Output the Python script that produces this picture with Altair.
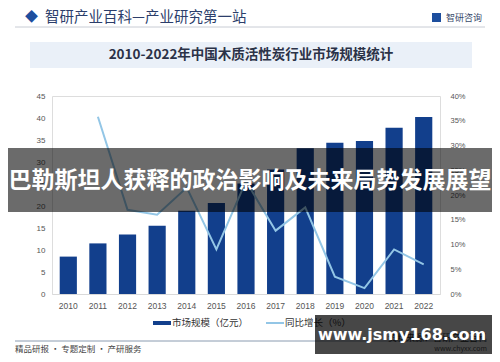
import altair as alt
import pandas as pd

# ---------------- data ----------------
years = ["2010", "2011", "2012", "2013", "2014", "2015", "2016",
         "2017", "2018", "2019", "2020", "2021", "2022"]
market_size = [8.5, 11.5, 13.5, 15.5, 18.9, 20.7, 25.1,
               28.3, 33.1, 34.4, 34.8, 37.8, 40.2]
growth_years = ["2011", "2012", "2013", "2014", "2015", "2016",
                "2017", "2018", "2019", "2020", "2021", "2022"]
growth_pct = [35.8, 17.0, 16.0, 21.5, 9.0, 22.8,
              12.8, 17.5, 3.5, 1.2, 9.0, 6.0]
left_ticks = [0, 5, 10, 15, 20, 25, 30, 35, 40, 45]
right_ticks = [0, 0.05, 0.10, 0.15, 0.20, 0.25, 0.30, 0.35, 0.40]

header_text = "智研产业百科—产业研究第一站"
logo_text = "智研咨询"
title_text = "2010-2022年中国木质活性炭行业市场规模统计"
legend_bar = "市场规模（亿元）"
legend_line = "同比增长（%）"
footer_left = "精品研报 · 专题定制 · 产研服务"
footer_src = "资料来源：智研产业百科"
footer_url = "www.chyxx.com"
banner_text = "巴勒斯坦人获释的政治影响及未来局势发展展望"
watermark_text = "www.jsmy168.com"

BAR = "#123F8C"
LINE = "#93C6E6"
CJK = "Noto Sans CJK SC"
LAT = "Liberation Sans"

bars_df = pd.DataFrame({"year": years, "size": market_size})
line_df = pd.DataFrame({"year": growth_years,
                        "growth": [g / 100 for g in growth_pct]})
one = pd.DataFrame({"k": [0]})

x_enc = alt.X("year:N", sort=years,
              scale=alt.Scale(paddingInner=0.42, paddingOuter=0.26),
              axis=alt.Axis(title=None, labelAngle=0, ticks=False,
                            domainColor="#d9d9d9", labelFontSize=8.5,
                            labelColor="#555555", labelFont=LAT,
                            labelPadding=7, grid=False))

bars = alt.Chart(bars_df).mark_bar(color=BAR).encode(
    x=x_enc,
    y=alt.Y("size:Q", scale=alt.Scale(domain=[0, 45], nice=False),
            axis=alt.Axis(title=None, values=left_ticks, orient="left",
                          domain=False, ticks=False, grid=False,
                          labelFontSize=8, labelColor="#555555",
                          labelFont=LAT, labelPadding=7)),
)

line = alt.Chart(line_df).mark_line(color=LINE, strokeWidth=2).encode(
    x=alt.X("year:N", sort=years),
    y=alt.Y("growth:Q", scale=alt.Scale(domain=[0, 0.40], nice=False),
            axis=alt.Axis(title=None, values=right_ticks, orient="right",
                          format=".0%", domain=False, ticks=False,
                          grid=False, labelFontSize=7.5,
                          labelColor="#555555", labelFont=LAT,
                          labelPadding=10)),
)

data_layer = alt.layer(bars, line).resolve_scale(y="independent")


def rect(x1, x2, y1, y2, color, opacity=1.0):
    return alt.Chart(one).mark_rect(color=color, opacity=opacity).encode(
        x=alt.value(x1), x2=alt.value(x2), y=alt.value(y1), y2=alt.value(y2))


def rule(x1, x2, y, color, width):
    return alt.Chart(one).mark_rule(color=color, strokeWidth=width).encode(
        x=alt.value(x1), x2=alt.value(x2), y=alt.value(y))


def text(t, x, y, size, color, align="left", font=CJK, weight="normal"):
    return alt.Chart(one).mark_text(
        text=t, align=align, baseline="middle", fontSize=size,
        color=color, font=font, fontWeight=weight).encode(
        x=alt.value(x), y=alt.value(y))


deco_back = [
    text("◆", -27, -79, 13, "#1D4E9E"),
    text(header_text, -7, -78.5, 14.5, "#2C3E6B"),
    rect(380, 389, -83, -74, "#1D4E9E"),
    text(logo_text, 394, -78.5, 9, "#3A4A6B"),
    rule(-37, 433, -69, "#C8CCD4", 1),
    rect(-22, 420, -54, -28, "#EAF0F8"),
    text(title_text, 199, -41, 13.5, "#2B3247", align="center",
         weight="bold"),
    rule(101, 119, 227, BAR, 4),
    text(legend_bar, 120, 227, 9.5, "#333333"),
    rule(214, 232, 227, LINE, 2),
    text(legend_line, 233, 227, 9.5, "#333333"),
    rule(-37, 435, 245, "#8A9BB0", 1),
    text(footer_left, -37, 253, 8.5, "#444444"),
    text(footer_src, 435, 242, 9, "#333333", align="right"),
    text(footer_url, 435, 253, 7, "#555555", align="right"),
]

deco_front = [
    rect(-44, 440, 52, 116, "#000000", 0.58),
    text(banner_text, 198, 85, 23, "#FFFFFF", align="center",
         weight="bold"),
    rect(263, 440, 219, 266, "#000000", 0.72),
    text(watermark_text, 350, 239, 16, "#FFFFFF", align="center",
         font="DejaVu Sans", weight="bold"),
]

chart = alt.layer(*deco_back, data_layer, *deco_front).properties(
    width=388, height=198,
    autosize=alt.AutoSizeParams(type="none"),
    padding={"left": 44, "top": 88, "right": 52, "bottom": 60},
).configure_view(stroke=None).configure(background="#FFFFFF")

chart.save("out.html", embed_options={"renderer": "svg", "actions": False})
